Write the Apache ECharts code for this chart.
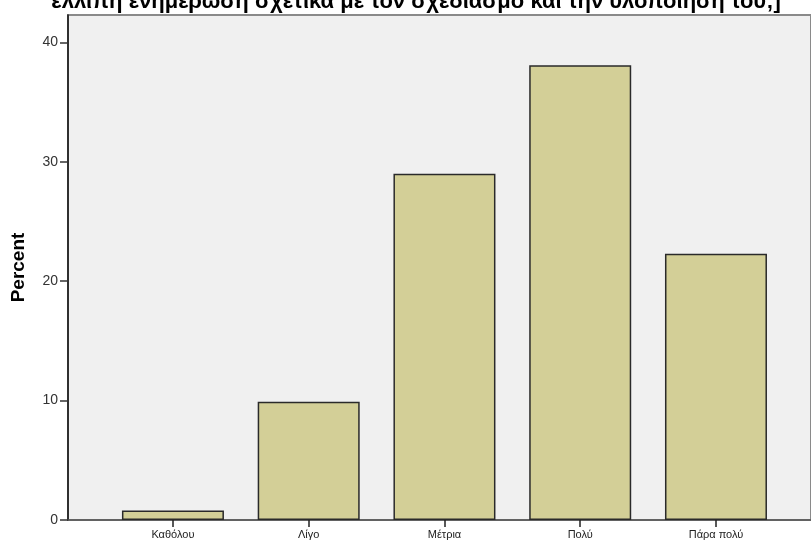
<!DOCTYPE html>
<html><head><meta charset="utf-8">
<script src="https://cdn.jsdelivr.net/npm/echarts@6/dist/echarts.min.js"></script>
<style>html,body{margin:0;padding:0;background:#fff}#c{width:811px;height:546px}</style>
</head><body><div id="c"></div>
<script>
var titleText = "ελλιπή ενημέρωση σχετικά με τον σχεδιασμό και την υλοποίησή του;]";
var categories = ["Καθόλου", "Λίγο", "Μέτρια", "Πολύ", "Πάρα πολύ"];
var percents = [0.8, 9.9, 29.0, 38.1, 22.3];
var yTicks = [0, 10, 20, 30, 40];

var chart = echarts.init(document.getElementById('c'), null, {renderer: 'canvas'});
var font = '"Liberation Sans", Arial, sans-serif';
var positions = categories.map(function(_, i){ return i; });
chart.setOption({
  animation: false,
  backgroundColor: '#ffffff',
  title: {
    text: titleText, left: 411, textAlign: 'center', top: -14,
    textStyle: {fontFamily: font, fontSize: 22, fontWeight: 'bold', color: '#000'}
  },
  grid: {
    left: 68, right: -2, top: 15, bottom: 26, show: true,
    backgroundColor: '#f0f0f0', borderColor: '#8a8a8a', borderWidth: 2
  },
  xAxis: {
    type: 'value', min: -0.773, max: 4.70,
    splitLine: {show: false},
    axisLine: {show: true, onZero: false, lineStyle: {color: '#555', width: 1.5}},
    axisTick: {show: true, length: 7, customValues: positions, lineStyle: {color: '#222', width: 1.5}},
    axisLabel: {
      customValues: positions, margin: 9,
      fontFamily: font, fontSize: 11, color: '#222',
      formatter: function(v){ return categories[Math.round(v)]; }
    }
  },
  yAxis: {
    type: 'value', min: 0, max: 42.3, interval: 10,
    name: 'Percent', nameLocation: 'middle', nameGap: 40, nameRotate: 90,
    nameTextStyle: {fontFamily: font, fontSize: 19, fontWeight: 'bold', color: '#000'},
    splitLine: {show: false},
    axisLine: {show: true, onZero: false, lineStyle: {color: '#111', width: 1.5}},
    axisTick: {show: true, length: 8, customValues: yTicks, lineStyle: {color: '#333', width: 1.5}},
    axisLabel: {fontFamily: font, fontSize: 14, color: '#333', margin: 10, customValues: yTicks}
  },
  series: [{
    type: 'bar', barWidth: 102,
    data: percents.map(function(v, i){ return [i, v]; }),
    itemStyle: {color: '#d3cf97', borderColor: '#2a2a2a', borderWidth: 1.5}
  }]
});
</script></body></html>
